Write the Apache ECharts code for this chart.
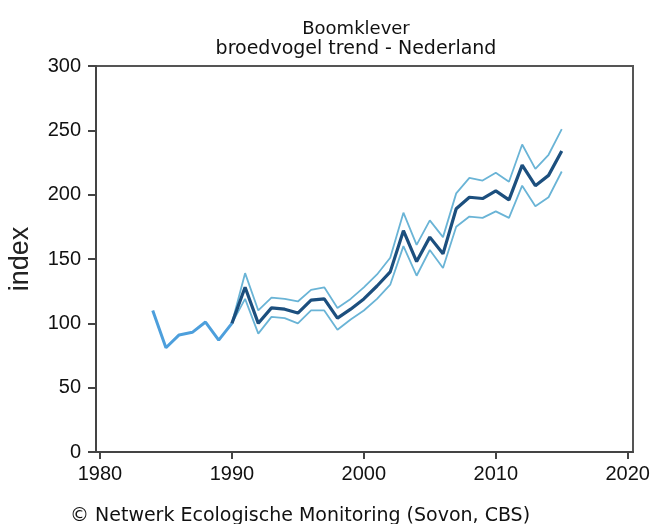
<!DOCTYPE html>
<html>
<head>
<meta charset="utf-8">
<script src="https://cdn.jsdelivr.net/npm/echarts@6/dist/echarts.min.js"></script>
<style>
  html, body { margin: 0; padding: 0; background: #fff; }
  #chart { width: 653px; height: 524px; }
</style>
</head>
<body>
<div id="chart"></div>
<script>
// vroege reeks (voor 1990)
const earlyYears = [1984, 1985, 1986, 1987, 1988, 1989, 1990];
const earlyIndex = [110, 81, 91, 93, 101, 87, 100];

// trend vanaf 1990 met betrouwbaarheidsband
const trendYears = [1990, 1991, 1992, 1993, 1994, 1995, 1996, 1997, 1998, 1999, 2000, 2001, 2002,
  2003, 2004, 2005, 2006, 2007, 2008, 2009, 2010, 2011, 2012, 2013, 2014, 2015];
const trendIndex = [100, 128, 100, 112, 111, 108, 118, 119, 104, 111, 119, 129, 140,
  172, 148, 167, 154, 189, 198, 197, 203, 196, 223, 207, 215, 234];
const upperIndex = [100, 139, 110, 120, 119, 117, 126, 128, 112, 119, 128, 138, 151,
  186, 161, 180, 167, 201, 213, 211, 217, 210, 239, 220, 231, 251];
const lowerIndex = [100, 119, 92, 105, 104, 100, 110, 110, 95, 103, 110, 119, 130,
  160, 137, 157, 143, 175, 183, 182, 187, 182, 207, 191, 198, 218];

const xTicks = [1980, 1990, 2000, 2010, 2020];

const pairs = (xs, ys) => xs.map((x, i) => [x, ys[i]]);
const textFont = '"DejaVu Sans", Verdana, sans-serif';
const numFont = '"Liberation Sans", Arial, sans-serif';

const chart = echarts.init(document.getElementById('chart'));

// 基于准备好的数据绘制图表
chart.setOption({
  animation: false,
  grid: {
    left: 96, right: 20, top: 66, bottom: 72,
    outerBoundsMode: 'none',
    show: true, borderColor: '#555', borderWidth: 2
  },
  graphic: [
    { type: 'text', x: 356, y: 20, style: { text: 'Boomklever', font: '18px ' + textFont, fill: '#111', align: 'center', verticalAlign: 'top' } },
    { type: 'text', x: 356, y: 40, style: { text: 'broedvogel trend - Nederland', font: '19px ' + textFont, fill: '#111', align: 'center', verticalAlign: 'top' } },
    { type: 'text', x: 70, y: 507, style: { text: '© Netwerk Ecologische Monitoring (Sovon, CBS)', font: '19px ' + textFont, fill: '#111', verticalAlign: 'top' } }
  ],
  xAxis: {
    type: 'value',
    min: 1979.7, max: 2020.4,
    axisLine: { onZero: false, lineStyle: { color: '#444', width: 2 } },
    axisTick: { show: true, length: 7, customValues: xTicks, lineStyle: { color: '#444', width: 2 } },
    axisLabel: {
      customValues: xTicks, color: '#111', fontSize: 20, fontFamily: numFont, margin: 12,
      formatter: v => String(v)
    },
    splitLine: { show: false }
  },
  yAxis: {
    type: 'value',
    min: 0, max: 300, interval: 50,
    name: 'index', nameLocation: 'middle', nameGap: 62, nameRotate: 90,
    nameTextStyle: { color: '#222', fontSize: 27, fontFamily: numFont },
    axisLine: { show: true, lineStyle: { color: '#444', width: 2 } },
    axisTick: { show: true, length: 8, lineStyle: { color: '#444', width: 2 } },
    axisLabel: { color: '#111', fontSize: 20, fontFamily: numFont, margin: 15 },
    splitLine: { show: false }
  },
  series: [
    {
      type: 'line', data: pairs(earlyYears, earlyIndex), showSymbol: false,
      lineStyle: { color: '#4d9fdc', width: 3 }, z: 3
    },
    {
      type: 'line', data: pairs(trendYears, upperIndex), showSymbol: false,
      lineStyle: { color: '#6ab4d6', width: 1.8 }, z: 2
    },
    {
      type: 'line', data: pairs(trendYears, lowerIndex), showSymbol: false,
      lineStyle: { color: '#6ab4d6', width: 1.8 }, z: 2
    },
    {
      type: 'line', data: pairs(trendYears, trendIndex), showSymbol: false,
      lineStyle: { color: '#1c4f7e', width: 3.2 }, z: 4
    }
  ]
});

window.addEventListener('resize', () => {
  chart.resize();
});
</script>
</body>
</html>
